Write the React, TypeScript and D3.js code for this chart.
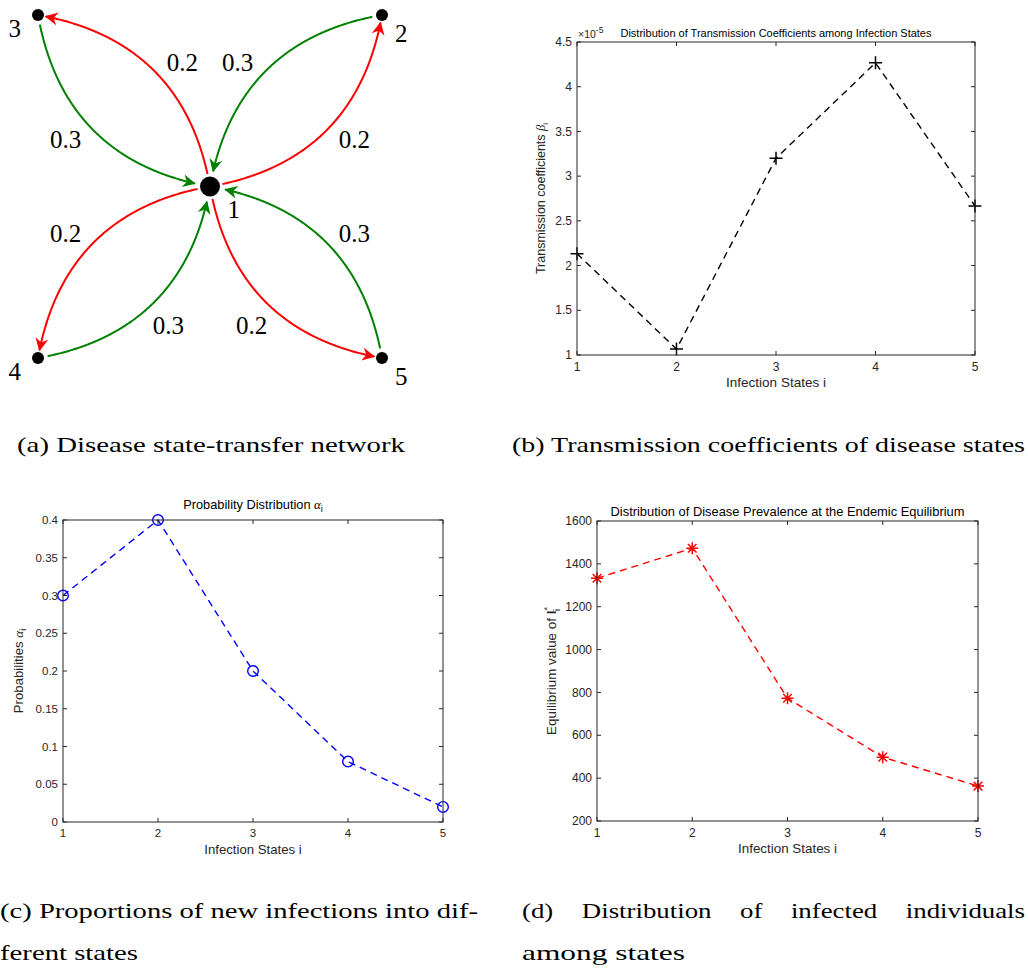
import React, { useLayoutEffect, useRef, useState } from 'react'
import * as d3 from 'd3'

// (a) state-transfer network
const nodeIds = [1, 2, 3, 4, 5]
const nodeGridX = [0, 1, -1, -1, 1]
const nodeGridY = [0, 1, 1, -1, -1]
const nodeLabelSide = ['br', 'br', 'bl', 'bl', 'br']
const edgeFrom = [1, 2, 1, 3, 1, 4, 1, 5]
const edgeTo = [2, 1, 3, 1, 4, 1, 5, 1]
const edgeWeight = ['0.2', '0.3', '0.2', '0.3', '0.2', '0.3', '0.2', '0.3']
const edgeLabelSide = ['h', 'h', 'h', 'h', 'h', 'v', 'v', 'h']

// (b)-(d) line plots
const states = [1, 2, 3, 4, 5]
const betaValues = [2.1333, 1.0667, 3.2, 4.2667, 2.6667] // x 10^-5
const betaTicks = [1, 1.5, 2, 2.5, 3, 3.5, 4, 4.5]
const alphaValues = [0.3, 0.4, 0.2, 0.08, 0.02]
const alphaTicks = [0, 0.05, 0.1, 0.15, 0.2, 0.25, 0.3, 0.35, 0.4]
const prevalenceValues = [1333, 1473, 773, 498, 363]
const prevalenceTicks = [200, 400, 600, 800, 1000, 1200, 1400, 1600]

const SANS = '"Liberation Sans", Arial, Helvetica, sans-serif'
const SERIF = '"Liberation Serif", "Times New Roman", serif'
const AX = '#262626'
const CAPTION_STRETCH = 1.22 // CM glyphs are wider than Times

type Pt = [number, number]

const Network = () => {
  const xN = d3.scaleLinear().domain([-1, 1]).range([38, 382])
  const yN = d3.scaleLinear().domain([-1, 1]).range([358, 15])
  const pos = (id: number): Pt => {
    const i = nodeIds.indexOf(id)
    return [xN(nodeGridX[i]), yN(nodeGridY[i])]
  }
  const radius = (id: number) => (id === 1 ? 10 : 6)
  const line = d3.line<Pt>().x(d => d[0]).y(d => d[1])

  const edges = edgeFrom.map((f, k) => {
    const t = edgeTo[k]
    const p0 = pos(f)
    const p2 = pos(t)
    const dx = p2[0] - p0[0]
    const dy = p2[1] - p0[1]
    const L = Math.hypot(dx, dy)
    const px = -dy / L
    const py = dx / L
    const bend = 0.35
    const c: Pt = [(p0[0] + p2[0]) / 2 + px * bend * L, (p0[1] + p2[1]) / 2 + py * bend * L]
    const at = (s: number): Pt => [
      (1 - s) * (1 - s) * p0[0] + 2 * (1 - s) * s * c[0] + s * s * p2[0],
      (1 - s) * (1 - s) * p0[1] + 2 * (1 - s) * s * c[1] + s * s * p2[1]
    ]
    const samples = d3.range(0, 301).map(i => at(i / 300))
    const gapStart = f === 1 ? 12 : 9
    const gapEnd = t === 1 ? 15 : 7
    const pts = samples.filter(
      p => Math.hypot(p[0] - p0[0], p[1] - p0[1]) >= gapStart && Math.hypot(p[0] - p2[0], p[1] - p2[1]) >= gapEnd
    )
    const mid = at(0.5)
    let lx = mid[0] + px * 12
    let ly = mid[1] + py * 12
    if (edgeLabelSide[k] === 'h') lx += Math.sign(px) * 20
    else {
      lx += Math.sign(px) * 6
      ly += Math.sign(py) * 14
    }
    const color = f === 1 ? '#ff0000' : '#008000'
    return { d: line(pts) as string, color, id: f === 1 ? 'red' : 'green', lx, ly, w: edgeWeight[k] }
  })

  return (
    <g>
      <defs>
        {[['red', '#ff0000'], ['green', '#008000']].map(([id, col]) => (
          <marker key={id} id={'arr-' + id} viewBox='-14 -8 16 16' refX={0} refY={0}
            markerWidth={16} markerHeight={16} markerUnits='userSpaceOnUse' orient='auto'>
            <path d='M1,0 L-12,-6.5 L-8,0 L-12,6.5 Z' fill={col} />
          </marker>
        ))}
      </defs>
      {edges.map((e, i) => (
        <path key={i} d={e.d} fill='none' stroke={e.color} strokeWidth={2} markerEnd={`url(#arr-${e.id})`} />
      ))}
      {edges.map((e, i) => (
        <text key={'l' + i} x={e.lx} y={e.ly} dy='0.35em' textAnchor='middle' fontFamily={SERIF} fontSize={25}>
          {e.w}
        </text>
      ))}
      {nodeIds.map((id, i) => {
        const [cx, cy] = pos(id)
        const r = radius(id)
        const dir = nodeLabelSide[i] === 'bl' ? [-0.87, 0.5] : [0.72, 0.7]
        const dist = r * 1.6 + 17
        return (
          <g key={id}>
            <circle cx={cx} cy={cy} r={r} fill='#000' />
            <text x={cx + dir[0] * dist} y={cy + dir[1] * dist} dy='0.35em' textAnchor='middle'
              fontFamily={SERIF} fontSize={25}>{id}</text>
          </g>
        )
      })}
    </g>
  )
}

type PlotProps = {
  x0: number; y0: number; x1: number; y1: number
  yDomain: [number, number]; yTicks: number[]
  values: number[]; color: string; marker: 'plus' | 'circle' | 'star'
  title: React.ReactNode; titleSize: number; titleGap: number
  ylabel: React.ReactNode; ylabelX: number; ylabelSize: number
  tickSize: number; labelSize: number
  extra?: React.ReactNode
}

const Plot = (p: PlotProps) => {
  const x = d3.scaleLinear().domain([1, 5]).range([p.x0, p.x1])
  const y = d3.scaleLinear().domain(p.yDomain).range([p.y1, p.y0])
  const line = d3.line<number>().x((_, i) => x(states[i])).y(d => y(d))
  const tl = 4
  const fmt = (v: number) => String(+v.toFixed(4))
  const markerPath = (m: string) => {
    if (m === 'plus') return 'M-6.5,0H6.5M0,-6.5V6.5'
    if (m === 'star') return 'M-6,0H6M0,-6V6M-4.3,-4.3L4.3,4.3M-4.3,4.3L4.3,-4.3'
    return ''
  }
  return (
    <g fontFamily={SANS}>
      <path d={line(p.values) as string} fill='none' stroke={p.color} strokeWidth={1.4} strokeDasharray='7,5' />
      {p.values.map((v, i) =>
        p.marker === 'circle' ? (
          <circle key={i} cx={x(states[i])} cy={y(v)} r={5.3} fill='none' stroke={p.color} strokeWidth={1.4} />
        ) : (
          <path key={i} transform={`translate(${x(states[i])},${y(v)})`} d={markerPath(p.marker)}
            stroke={p.color} strokeWidth={1.5} fill='none' />
        )
      )}
      <rect x={p.x0} y={p.y0} width={p.x1 - p.x0} height={p.y1 - p.y0} fill='none' stroke={AX} strokeWidth={1} />
      {states.map(s => (
        <g key={'x' + s}>
          <line x1={x(s)} x2={x(s)} y1={p.y1} y2={p.y1 - tl} stroke={AX} />
          <line x1={x(s)} x2={x(s)} y1={p.y0} y2={p.y0 + tl} stroke={AX} />
          <text x={x(s)} y={p.y1 + 7} dy='0.71em' textAnchor='middle' fontSize={p.tickSize} fill={AX}>{s}</text>
        </g>
      ))}
      {p.yTicks.map(t => (
        <g key={'y' + t}>
          <line x1={p.x0} x2={p.x0 + tl} y1={y(t)} y2={y(t)} stroke={AX} />
          <line x1={p.x1} x2={p.x1 - tl} y1={y(t)} y2={y(t)} stroke={AX} />
          <text x={p.x0 - 5} y={y(t)} dy='0.35em' textAnchor='end' fontSize={p.tickSize} fill={AX}>{fmt(t)}</text>
        </g>
      ))}
      <text x={(p.x0 + p.x1) / 2} y={p.y1 + 32} textAnchor='middle' fontSize={p.labelSize} fill={AX}>
        Infection States i
      </text>
      <text x={(p.x0 + p.x1) / 2} y={p.y0 - p.titleGap} textAnchor='middle' fontSize={p.titleSize} fill='#000'>
        {p.title}
      </text>
      <text transform={`translate(${p.ylabelX},${(p.y0 + p.y1) / 2}) rotate(-90)`} textAnchor='middle'
        fontSize={p.ylabelSize} fill={AX}>
        {p.ylabel}
      </text>
      {p.extra}
    </g>
  )
}

// caption line: stretched to its width, or justified by widening the spaces
const Caption = ({ x, y, len, justify, children }: { x: number; y: number; len: number; justify?: boolean; children: string }) => {
  const ref = useRef<SVGTextElement>(null)
  const [ws, setWs] = useState(0)
  useLayoutEffect(() => {
    if (!justify || !ref.current) return
    const natural = ref.current.getComputedTextLength()
    const gaps = children.split(' ').length - 1
    setWs((len / CAPTION_STRETCH - natural) / gaps)
  }, [])
  if (justify) {
    return (
      <text ref={ref} transform={`translate(${x},${y}) scale(${CAPTION_STRETCH},1)`} fontFamily={SERIF}
        fontSize={22} fill='#000' style={{ wordSpacing: ws }}>
        {children}
      </text>
    )
  }
  return (
    <text x={x} y={y} fontFamily={SERIF} fontSize={22} fill='#000' textLength={len} lengthAdjust='spacingAndGlyphs'>
      {children}
    </text>
  )
}

const App = () => {
  return (
    <svg width={1028} height={969} style={{ position: 'absolute', left: 0, top: 0, background: '#fff' }}>
      <rect width={1028} height={969} fill='#fff' />
      <Network />
      <Plot x0={577} y0={42} x1={975} y1={355} yDomain={[1, 4.5]} yTicks={betaTicks}
        values={betaValues} color='#000' marker='plus'
        title='Distribution of Transmission Coefficients among Infection States' titleSize={11} titleGap={5}
        ylabel={<>Transmission coefficients <tspan fontFamily={SERIF} fontStyle='italic'>β</tspan><tspan fontSize={8} dy={3}>i</tspan></>}
        ylabelX={545} ylabelSize={12.5} tickSize={12} labelSize={13.5}
        extra={<text x={578} y={38} fontSize={10.5} fill={AX}>×10<tspan fontSize={8.5} dy={-5}>-5</tspan></text>} />
      <Plot x0={63} y0={520} x1={443} y1={822} yDomain={[0, 0.4]} yTicks={alphaTicks}
        values={alphaValues} color='#0000ff' marker='circle'
        title={<>Probability Distribution <tspan fontFamily={SERIF} fontStyle='italic'>α</tspan><tspan fontSize={9} dy={3}>i</tspan></>}
        titleSize={12.8} titleGap={11}
        ylabel={<>Probabilities <tspan fontFamily={SERIF} fontStyle='italic'>α</tspan><tspan fontSize={9} dy={3}>i</tspan></>}
        ylabelX={23} ylabelSize={13.2} tickSize={11.5} labelSize={13.2} />
      <Plot x0={597} y0={521} x1={978} y1={821} yDomain={[200, 1600]} yTicks={prevalenceTicks}
        values={prevalenceValues} color='#ff0000' marker='star'
        title='Distribution of Disease Prevalence at the Endemic Equilibrium' titleSize={12.9} titleGap={5}
        ylabel={<>Equilibrium value of <tspan fontWeight='bold'>I</tspan><tspan fontSize={9} dy={-6}>*</tspan><tspan fontSize={9} dx={-4} dy={10}>i</tspan></>}
        ylabelX={556} ylabelSize={13.4} tickSize={12} labelSize={13.4} />
      <Caption x={17} y={452} len={388}>(a) Disease state-transfer network</Caption>
      <Caption x={512} y={452} len={513}>(b) Transmission coefficients of disease states</Caption>
      <Caption x={0} y={918} len={478}>(c) Proportions of new infections into dif-</Caption>
      <Caption x={0} y={960} len={138}>ferent states</Caption>
      <Caption x={522} y={918} len={503} justify>(d) Distribution of infected individuals</Caption>
      <Caption x={522} y={960} len={163}>among states</Caption>
    </svg>
  )
}

export default App
